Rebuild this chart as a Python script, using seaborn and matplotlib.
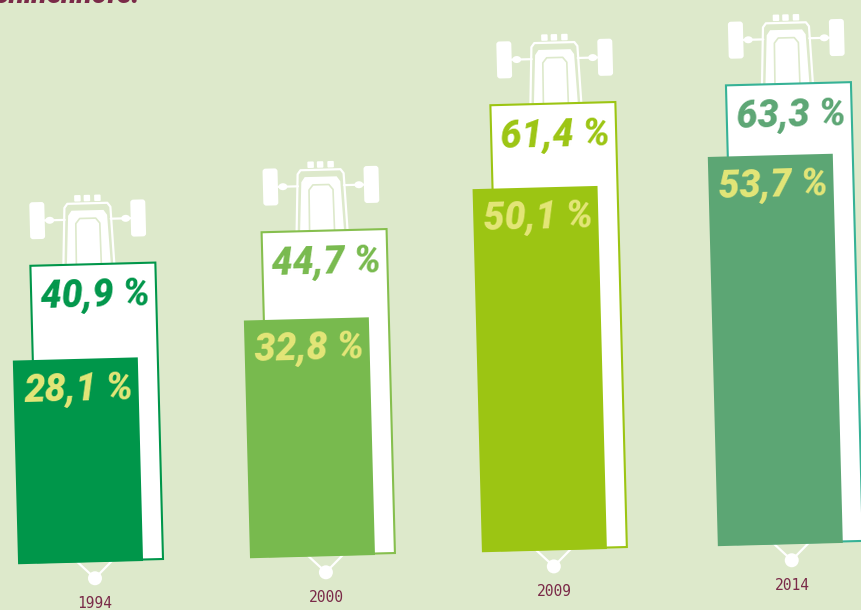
import pandas as pd
import seaborn as sns
import matplotlib
matplotlib.use("Agg")
import matplotlib.pyplot as plt
from matplotlib.lines import Line2D
from matplotlib.patches import Circle, Ellipse, FancyBboxPatch, Polygon
from matplotlib.transforms import Affine2D

years = ["1994", "2000", "2009", "2014"]
outer_values = [40.9, 44.7, 61.4, 63.3]
inner_values = [28.1, 32.8, 50.1, 53.7]
bar_colors = ["#00964A", "#78BA4E", "#9CC513", "#5CA674"]
edge_colors = ["#00964A", "#86BF4E", "#9CC513", "#36B296"]

BG = "#DDE9CB"
MAROON = "#7A2A48"
YELLOW = "#E4E678"
WHITE = "#FFFFFF"

W, H = 861, 610
STEP = 232        # pixels between years
PX_PER_PCT = 7.25
BAR_W = 125
BASE_Y = 51
FIRST_X = 100.5
TILT = 1.48
LABEL_FONT = "Roboto"

# the groups are not spaced quite evenly in the original
bar_nudge = [0, 0, 0, 4]
tractor_nudge = [0, 2, 7, 7]
hitch_nudge = [-1, -2, -6, 0]

sns.set_theme(style="white")

fig = plt.figure(figsize=(W / 100, H / 100), dpi=100, facecolor=BG)
ax = fig.add_axes([0, 0, 1, 1])

outer = pd.DataFrame({"year": years, "value": outer_values})
inner = pd.DataFrame({"year": years, "value": inner_values})

sns.barplot(data=outer, x="year", y="value", color=WHITE, width=BAR_W / STEP, saturation=1, ax=ax)
n_outer = len(ax.patches)
sns.barplot(data=inner, x="year", y="value", hue="year", palette=bar_colors, legend=False,
            width=BAR_W / STEP, saturation=1, ax=ax)

ax.set_xlim(-FIRST_X / STEP, (W - FIRST_X) / STEP)
ax.set_ylim(-BASE_Y / PX_PER_PCT, (H - BASE_Y) / PX_PER_PCT)
ax.axis("off")

# the whole graphic leans a little, so tilt everything around one point
tilt = Affine2D().rotate_deg_around(FIRST_X + BAR_W / 2, BASE_Y, TILT)

outer_bars = list(ax.patches)[:n_outer]
inner_bars = list(ax.patches)[n_outer:]
for i, (bar, col) in enumerate(zip(outer_bars, edge_colors)):
    bar.set_transform(ax.transData + Affine2D().translate(bar_nudge[i], 0) + tilt)
    bar.set_edgecolor(col)
    bar.set_linewidth(1.5)
    bar.set_zorder(2)
for i, bar in enumerate(inner_bars):
    bar.set_transform(ax.transData + Affine2D().translate(bar_nudge[i] - 20, -1.5) + tilt)
    bar.set_edgecolor("none")
    bar.set_zorder(3)


def at(i, value, dx=0, dy=0):
    px, py = ax.transData.transform((i, value))
    return Affine2D().translate(px + dx, py + dy) + tilt


def add_tractor(i, value):
    t = at(i, value, dx=-4 + tractor_nudge[i], dy=-1)
    for side in (-1, 1):
        ax.add_patch(FancyBboxPatch((side * 50.5 - 5.5, 29.5), 11, 33, boxstyle="round,pad=2,rounding_size=3",
                                    fc=WHITE, ec="none", transform=t, zorder=1))
        ax.add_line(Line2D([side * 23, side * 43], [46, 46], color=WHITE, lw=1.6, transform=t, zorder=1))
        ax.add_patch(Ellipse((side * 38, 46), 9, 7, fc=WHITE, ec="none", transform=t, zorder=1))
    for left in (-13, -3.5, 7):
        ax.add_patch(FancyBboxPatch((left + 1, 65), 4.5, 4.5, boxstyle="round,pad=1,rounding_size=1",
                                    fc=WHITE, ec="none", transform=t, zorder=1))
    # hood outline, filled hood and cab window
    ax.add_line(Line2D([-25.5, -23, -20, 20, 23, 25.5], [0, 58, 62, 62, 58, 0], color=WHITE, lw=1.6,
                       solid_joinstyle="round", transform=t, zorder=1))
    ax.add_patch(Polygon([(-22, 0), (-19.5, 50), (-16, 55), (16, 55), (19.5, 50), (22, 0)],
                         fc=WHITE, ec="none", transform=t, zorder=1))
    ax.add_line(Line2D([-12.5, -12, -8, 8, 12, 12.5], [0, 42, 47, 47, 42, 0], color=BG, lw=1.2,
                       solid_joinstyle="round", transform=t, zorder=1))


def add_hitch(i):
    t = at(i, 0, dx=-5 + hitch_nudge[i])
    ax.add_line(Line2D([-18, 0, 18], [0, -17.5, 0], color=WHITE, lw=1.6, transform=t, zorder=1))
    ax.add_patch(Circle((0, -17.5), 7, fc=WHITE, ec="none", transform=t, zorder=1))


for i, year in enumerate(years):
    add_tractor(i, outer_values[i])
    add_hitch(i)
    ax.text(0, 0, f"{outer_values[i]:.1f} %".replace(".", ","),
            transform=at(i, outer_values[i], dx=1.5 + bar_nudge[i], dy=-32),
            color=bar_colors[i], fontsize=27, fontweight="black", fontstyle="italic", family=LABEL_FONT,
            ha="center", va="center", rotation=TILT, rotation_mode="anchor", zorder=4)
    ax.text(0, 0, f"{inner_values[i]:.1f} %".replace(".", ","),
            transform=at(i, inner_values[i], dx=-17.5 + bar_nudge[i], dy=-32),
            color=YELLOW, fontsize=27, fontweight="black", fontstyle="italic", family=LABEL_FONT,
            ha="center", va="center", rotation=TILT, rotation_mode="anchor", zorder=4)
    ax.text(0, 0, year, transform=at(i, 0, dx=-5.5 + hitch_nudge[i], dy=-42.5), color=MAROON, fontsize=10.5,
            family="DejaVu Sans Mono", ha="center", va="center", zorder=4)

# end of the headline, cut off by the top edge
fig.text(140 / W, 1 - 3 / H, "schinenhöfe.", color=MAROON, fontsize=20, fontweight="black", fontstyle="italic",
         family=LABEL_FONT, ha="right", va="baseline")

fig.savefig("out.png", dpi=100, facecolor=BG)
